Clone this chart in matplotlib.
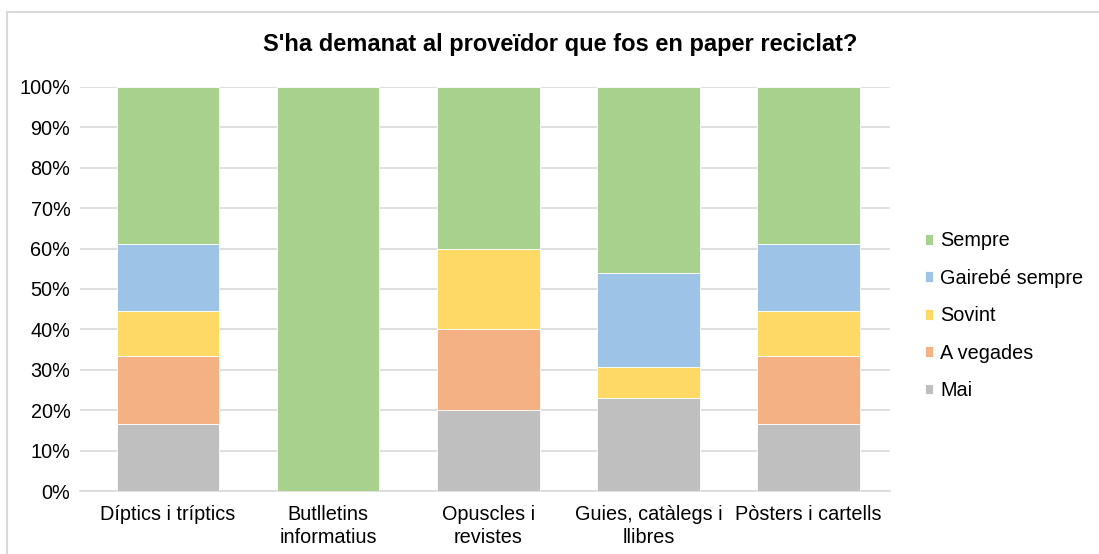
import matplotlib.pyplot as plt
import matplotlib.patches as mpatches
from matplotlib.ticker import PercentFormatter

plt.rcParams['font.family'] = ['Liberation Sans', 'DejaVu Sans']

categories = ['Díptics i tríptics', 'Butlletins\ninformatius', 'Opuscles i\nrevistes',
              'Guies, catàlegs i\nllibres', 'Pòsters i cartells']
series = ['Mai', 'A vegades', 'Sovint', 'Gairebé sempre', 'Sempre']
mai = [16.7, 0, 20.0, 23.1, 16.7]
a_vegades = [16.7, 0, 20.0, 0, 16.7]
sovint = [11.1, 0, 20.0, 7.7, 11.1]
gairebe = [16.7, 0, 0, 23.1, 16.7]
sempre = [38.8, 100.0, 40.0, 46.1, 38.8]
colors = ['#BFBFBF', '#F4B183', '#FFD966', '#9DC3E6', '#A9D18E']

fig = plt.figure(figsize=(10.99, 5.54), dpi=100)
ax = fig.add_axes([0.0728, 0.1137, 0.7372, 0.7293])

# light frame like the spreadsheet chart area
fig.patches.append(mpatches.Rectangle((0.0064, -0.1), 1.2, 1.079, transform=fig.transFigure,
                                      fill=False, edgecolor='#D9D9D9', linewidth=1.5))

x = range(len(categories))
bottom = [0] * len(categories)
handles = []
for name, vals, col in zip(series, [mai, a_vegades, sovint, gairebe, sempre], colors):
    b = ax.bar(x, vals, width=0.64, bottom=bottom, color=col, edgecolor='white',
               linewidth=0.6, label=name, zorder=3)
    handles.append(b)
    bottom = [bt + v for bt, v in zip(bottom, vals)]

ax.set_xlim(-0.55, 4.51)
ax.set_ylim(0, 100)
ax.set_yticks(range(0, 101, 10))
ax.yaxis.set_major_formatter(PercentFormatter(decimals=0))
ax.grid(axis='y', color='#D9D9D9', linewidth=1.2, zorder=0)
for s in ['top', 'right', 'left']:
    ax.spines[s].set_visible(False)
ax.spines['bottom'].set_color('#D9D9D9')
ax.spines['bottom'].set_linewidth(1.2)
ax.tick_params(length=0, labelsize=14.3, colors='#000000')
ax.tick_params(axis='y', pad=7)
ax.tick_params(axis='x', pad=10)
ax.set_xticks(list(x))
ax.set_xticklabels(categories, linespacing=1.3)

fig.text(0.51, 0.919, "S'ha demanat al proveïdor que fos en paper reciclat?",
         ha='center', va='center', fontsize=17, fontweight='bold')

fig.legend(handles[::-1], series[::-1], loc='center left', bbox_to_anchor=(0.825, 0.43),
           frameon=False, fontsize=14.3, handlelength=0.45, handleheight=0.45,
           handletextpad=0.35, labelspacing=0.93)

fig.savefig('out.png', dpi=100)
